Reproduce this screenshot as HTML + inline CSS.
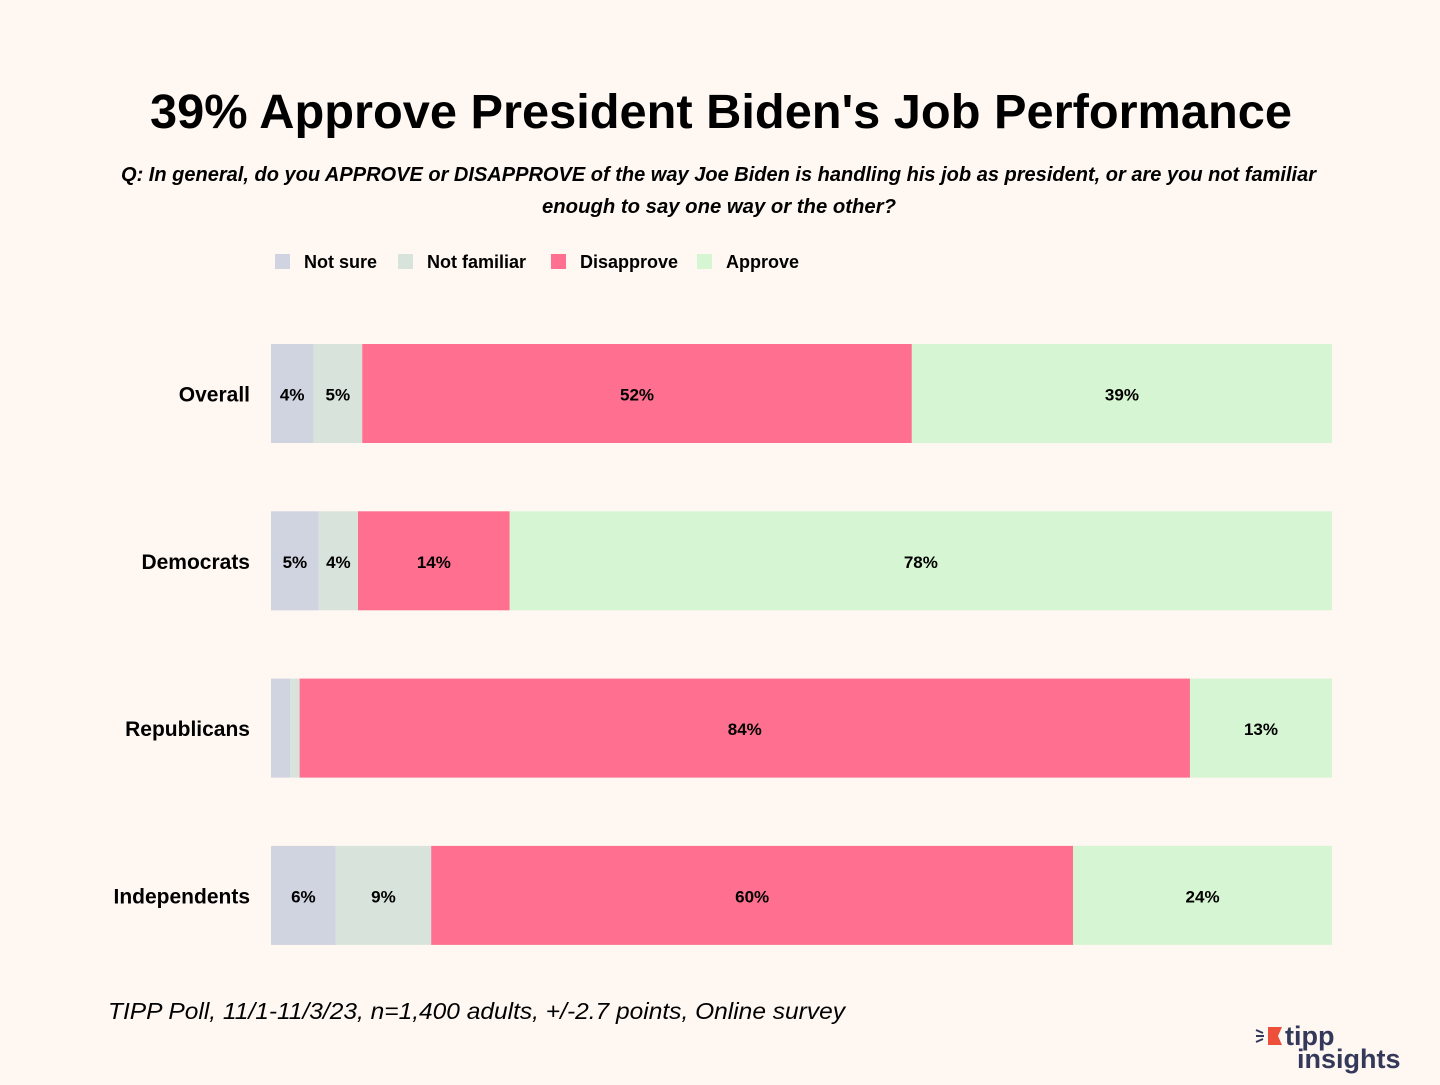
<!DOCTYPE html>
<html><head><meta charset="utf-8"><style>
body{margin:0;background:#fef7f2;}
#wrap{position:relative;width:1440px;height:1080px;background:#fef7f2;font-family:"Liberation Sans",sans-serif;color:#000;}
</style></head><body>
<div id="wrap">
<svg id="chart" width="1440" height="1080">
<text x="150" y="128" font-size="48" font-weight="bold" textLength="1142" lengthAdjust="spacingAndGlyphs" font-family="Liberation Sans, sans-serif">39% Approve President Biden's Job Performance</text>
<text x="121" y="181" font-size="20" font-style="italic" font-weight="600" textLength="1195" lengthAdjust="spacingAndGlyphs" font-family="Liberation Sans, sans-serif">Q: In general, do you APPROVE or DISAPPROVE of the way Joe Biden is handling his job as president, or are you not familiar</text>
<text x="542" y="213" font-size="20" font-style="italic" font-weight="600" textLength="354" lengthAdjust="spacingAndGlyphs" font-family="Liberation Sans, sans-serif">enough to say one way or the other?</text>
<g id="legend"></g>
<g id="bars"></g>
<text x="108" y="1019" font-size="23" font-style="italic" textLength="737" lengthAdjust="spacingAndGlyphs" font-family="Liberation Sans, sans-serif">TIPP Poll, 11/1-11/3/23, n=1,400 adults, +/-2.7 points, Online survey</text>
<g>
<polygon points="1268,1027 1282,1027 1278,1036 1282,1045 1268,1045" fill="#ee4f3b"/>
<line x1="1256" y1="1030" x2="1263" y2="1033" stroke="#34395a" stroke-width="2"/>
<line x1="1256" y1="1036" x2="1264" y2="1036" stroke="#34395a" stroke-width="2"/>
<line x1="1256" y1="1042" x2="1263" y2="1039" stroke="#34395a" stroke-width="2"/>
<text x="1285" y="1045" font-size="27" font-weight="bold" fill="#34395a" font-family="Liberation Sans, sans-serif">tipp</text>
<text x="1297" y="1068" font-size="27" font-weight="bold" fill="#34395a" font-family="Liberation Sans, sans-serif">insights</text>
</g>
</svg>
</div>
<script>
const categories=["Overall","Democrats","Republicans","Independents"];
const seriesNames=["Not sure","Not familiar","Disapprove","Approve"];
const notSure=[4,4.5,1.8,6.1];
const notFamiliar=[4.6,3.7,0.9,9];
const disapprove=[51.8,14.3,84,60.5];
const approve=[39.6,77.5,13.4,24.4];
const labelsNotSure=["4%","5%","","6%"];
const labelsNotFamiliar=["5%","4%","","9%"];
const labelsDisapprove=["52%","14%","84%","60%"];
const labelsApprove=["39%","78%","13%","24%"];
const colors=["#d0d3e0","#d8e3dc","#ff7090","#d6f5d2"];
const NS="http://www.w3.org/2000/svg";
const x0=271,x1=1332,yTop=344,pitch=167.3,bh=99;
const series=[notSure,notFamiliar,disapprove,approve];
const labs=[labelsNotSure,labelsNotFamiliar,labelsDisapprove,labelsApprove];
const g=document.getElementById('bars');
function mk(t,a){const e=document.createElementNS(NS,t);for(const k in a)e.setAttribute(k,a[k]);return e;}
categories.forEach((c,i)=>{
  const total=series.reduce((s,a)=>s+a[i],0);
  const xs=v=>v/total*(x1-x0);
  const y=yTop+i*pitch;
  const cl=mk('text',{x:250,y:y+bh/2+8,'text-anchor':'end','font-size':21,'font-weight':'bold','font-family':'Liberation Sans, sans-serif'});
  cl.textContent=c;
  
  
  g.appendChild(cl);
  let x=x0;
  series.forEach((s,j)=>{
    const w=xs(s[i]);
    const r=mk('rect',{x:x,y:y,width:w,height:bh,fill:colors[j]});
    
    
    g.appendChild(r);
    if(labs[j][i]){
      const t=mk('text',{x:x+w/2,y:y+bh/2+7,'text-anchor':'middle','font-size':17,'font-weight':'bold','font-family':'Liberation Sans, sans-serif'});
      t.textContent=labs[j][i];
      
      
      g.appendChild(t);
    }
    x+=w;
  });
});
const lg=document.getElementById('legend');
const lx=[275,398,551,697];
seriesNames.forEach((n,j)=>{
  const r=mk('rect',{x:lx[j],y:254,width:15,height:15,fill:colors[j]});
  
  
  lg.appendChild(r);
  const t=mk('text',{x:lx[j]+29,y:268,'font-size':18,'font-weight':'bold','font-family':'Liberation Sans, sans-serif'});
  t.textContent=n;
  
  
  lg.appendChild(t);
});
</script>
</body></html>
